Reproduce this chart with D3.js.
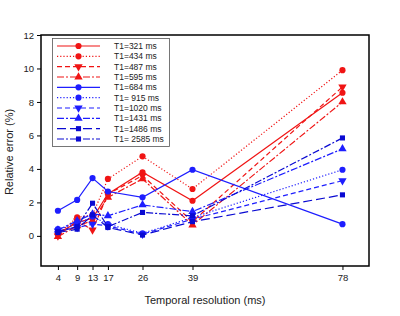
<!DOCTYPE html>
<html>
<head>
<meta charset="utf-8">
<script src="https://cdn.jsdelivr.net/npm/d3@7"></script>
<style>
  body { margin: 0; background: #fff; }
  text { font-family: "Liberation Sans", Arial, sans-serif; }
</style>
</head>
<body>
<div id="chart"></div>
<script>
// temporal resolutions (ms)
const resolutions = [4, 9, 13, 17, 26, 39, 78];
const yTicks = [0, 2, 4, 6, 8, 10, 12];

// series labels and relative error (%) per resolution
const labels = ["T1=321 ms", "T1=434 ms", "T1=487 ms", "T1=595 ms", "T1=684 ms",
                "T1= 915 ms", "T1=1020 ms", "T1=1431 ms", "T1=1486 ms", "T1= 2585 ms"];
const t1_321  = [0.15, 0.8, 1.05, 2.5, 3.8, 2.1, 8.55];
const t1_434  = [0.1, 1.1, 1.25, 3.4, 4.75, 2.8, 9.9];
const t1_487  = [0.0, 0.9, 0.35, 2.5, 3.6, 0.85, 8.9];
const t1_595  = [-0.05, 0.6, 0.9, 2.3, 3.4, 0.65, 8.0];
const t1_684  = [1.5, 2.15, 3.45, 2.65, 2.3, 3.95, 0.7];
const t1_915  = [0.4, 0.7, 1.15, 0.7, 0.15, 1.1, 3.95];
const t1_1020 = [0.3, 0.5, 0.7, 0.6, 0.1, 1.0, 3.3];
const t1_1431 = [0.35, 0.9, 1.3, 1.2, 1.85, 1.45, 5.2];
const t1_1486 = [0.2, 0.4, 1.25, 0.5, 0.05, 0.85, 2.45];
const t1_2585 = [0.25, 0.55, 1.95, 0.55, 1.4, 1.2, 5.85];
const seriesValues = [t1_321, t1_434, t1_487, t1_595, t1_684, t1_915, t1_1020, t1_1431, t1_1486, t1_2585];

// line styles per series
const red = "#f01414", blue = "#1e1eff", navy = "#0a0ad2";
const styles = [
  { color: red,  dash: null,          sym: d3.symbolCircle },
  { color: red,  dash: "1.2,2",       sym: d3.symbolCircle },
  { color: red,  dash: "5,3",         sym: d3.symbolTriangle, flip: true },
  { color: red,  dash: "7,2,2,2",     sym: d3.symbolTriangle },
  { color: blue, dash: null,          sym: d3.symbolCircle },
  { color: blue, dash: "1.2,2",       sym: d3.symbolCircle },
  { color: blue, dash: "5,3",         sym: d3.symbolTriangle, flip: true },
  { color: blue, dash: "7,2,2,2",     sym: d3.symbolTriangle },
  { color: navy, dash: "9,4",         sym: d3.symbolSquare },
  { color: navy, dash: "7,2,2,2",     sym: d3.symbolSquare }
];

const width = 400, height = 316;
const margin = { left: 41, right: 31, top: 35, bottom: 50 };

const svg = d3.select("#chart").append("svg")
  .attr("width", width)
  .attr("height", height);

const x = d3.scaleLinear().domain([-0.4, 84.9]).range([margin.left, width - margin.right]);
const y = d3.scaleLinear().domain([-1.8, 12]).range([height - margin.bottom, margin.top]);

// axes
svg.append("g")
  .attr("transform", `translate(0,${height - margin.bottom})`)
  .call(d3.axisBottom(x).tickValues(resolutions).tickSize(4).tickPadding(4))
  .call(g => g.select(".domain").remove())
  .call(g => g.selectAll("text").attr("font-size", 9.5).attr("fill", "#222"));

svg.append("g")
  .attr("transform", `translate(${margin.left},0)`)
  .call(d3.axisLeft(y).tickValues(yTicks).tickSize(4).tickPadding(3))
  .call(g => g.select(".domain").remove())
  .call(g => g.selectAll("text").attr("font-size", 9.5).attr("fill", "#222"));

// plot frame
svg.append("rect")
  .attr("x", margin.left)
  .attr("y", margin.top)
  .attr("width", width - margin.right - margin.left)
  .attr("height", height - margin.bottom - margin.top)
  .attr("fill", "none")
  .attr("stroke", "#000")
  .attr("stroke-width", 1.5);

// axis titles
svg.append("text")
  .attr("x", (margin.left + width - margin.right) / 2)
  .attr("y", 304)
  .attr("text-anchor", "middle")
  .attr("font-size", 11)
  .attr("fill", "#222")
  .text("Temporal resolution (ms)");

svg.append("text")
  .attr("transform", "translate(13,152) rotate(-90)")
  .attr("text-anchor", "middle")
  .attr("font-size", 11)
  .attr("fill", "#222")
  .text("Relative error (%)");

const line = d3.line()
  .x((d, i) => x(resolutions[i]))
  .y(d => y(d));

function marker(sel, s) {
  sel.attr("d", d3.symbol().type(s.sym).size(s.sym === d3.symbolSquare ? 26 : 30))
    .attr("fill", s.color)
    .attr("stroke", "none");
}

// series lines and markers
seriesValues.forEach((vals, k) => {
  const s = styles[k];
  const g = svg.append("g");
  g.append("path")
    .datum(vals)
    .attr("d", line)
    .attr("fill", "none")
    .attr("stroke", s.color)
    .attr("stroke-width", 1.2)
    .attr("stroke-dasharray", s.dash);
  g.selectAll("path.pt")
    .data(vals)
    .join("path")
    .attr("class", "pt")
    .attr("transform", (d, i) => `translate(${x(resolutions[i])},${y(d)})${s.flip ? " rotate(180)" : ""}`)
    .call(marker, s);
});

// legend
const legend = svg.append("g");
legend.append("rect")
  .attr("x", 52.5).attr("y", 38.5)
  .attr("width", 117).attr("height", 108)
  .attr("fill", "#fff")
  .attr("stroke", "#555")
  .attr("stroke-width", 0.8);

const rowY = d3.scaleLinear().domain([0, labels.length - 1]).range([46, 139]);
labels.forEach((lab, k) => {
  const s = styles[k];
  const ry = rowY(k);
  legend.append("line")
    .attr("x1", 57).attr("x2", 100)
    .attr("y1", ry).attr("y2", ry)
    .attr("stroke", s.color)
    .attr("stroke-width", 1.2)
    .attr("stroke-dasharray", s.dash);
  legend.append("path")
    .attr("transform", `translate(78.5,${ry})${s.flip ? " rotate(180)" : ""}`)
    .call(marker, s);
  legend.append("text")
    .attr("x", 114).attr("y", ry + 3)
    .attr("font-size", 8.5)
    .attr("fill", "#222")
    .text(lab);
});
</script>
</body>
</html>
